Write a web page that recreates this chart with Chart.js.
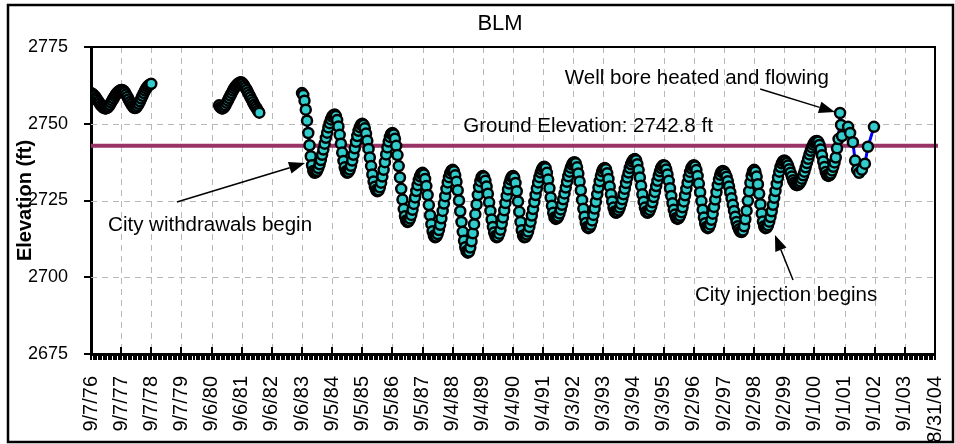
<!DOCTYPE html>
<html lang="en">
<head>
    <meta charset="UTF-8">
    <title>BLM</title>
    <script src="https://cdn.jsdelivr.net/npm/chart.js"></script>
    <style>
        * {
            margin: 0;
            padding: 0;
            box-sizing: border-box;
        }

        body {
            background: #fff;
        }

        .chart-box {
            position: relative;
            width: 955px;
            height: 444px;
        }
    </style>
</head>
<body>
    <div class="chart-box">
        <canvas id="blmChart"></canvas>
    </div>

    <script>
        // x axis: one tick per year, values are years after 9/7/76
        const tickLabels = [
            '9/7/76', '9/7/77', '9/7/78', '9/7/79', '9/6/80', '9/6/81', '9/6/82', '9/6/83',
            '9/5/84', '9/5/85', '9/5/86', '9/5/87', '9/4/88', '9/4/89', '9/4/90', '9/4/91',
            '9/3/92', '9/3/93', '9/3/94', '9/3/95', '9/2/96', '9/2/97', '9/2/98', '9/2/99',
            '9/1/00', '9/1/01', '9/1/02', '9/1/03', '8/31/04'
        ];
        const yTicks = [2675, 2700, 2725, 2750, 2775];
        const groundElevation = 2742.8;
        const groundSpan = [0, 28.1];

        // first reading of each record, in months after 9/7/76; readings every half month
        const segmentStart = [0, 51, 84];

        const levels1976 = [
            2760, 2759.8, 2759.4, 2759, 2758.4, 2757.8, 2757.2, 2756.6, 2756, 2755.6, 2755.2, 2755,
            2755, 2755.2, 2755.6, 2756.2, 2756.9, 2757.6, 2758.3, 2759, 2759.6, 2760.1, 2760.5, 2760.8,
            2761, 2761, 2760.7, 2760.2, 2759.5, 2758.7, 2757.9, 2757.1, 2756.4, 2755.8, 2755.3, 2755.1,
            2755.3, 2755.8, 2756.5, 2757.3, 2758.2, 2759.1, 2760, 2760.8, 2761.5, 2762.1, 2762.5, 2762.8,
            2763
        ];
        const levels1980 = [
            2756, 2755.4, 2755, 2755, 2755.4, 2756, 2756.8, 2757.6, 2758.4, 2759.2, 2760, 2760.8,
            2761.5, 2762.1, 2762.6, 2763, 2763.3, 2763.5, 2763.4, 2763, 2762.4, 2761.7, 2761, 2760.2,
            2759.4, 2758.6, 2757.8, 2757, 2756.2, 2755.5, 2754.9, 2754.2, 2753.6
        ];
        const levels1983 = [
            2760, 2759.4, 2757.5, 2754.6, 2751, 2747, 2743, 2739.4, 2736.5, 2734.6, 2734,
            2734.2, 2734.7, 2735.6, 2736.8, 2738.2, 2739.9, 2741.6, 2743.5, 2745.4, 2747.1, 2748.8, 2750.2, 2751.4, 2752.3, 2752.8, 2753,
            2752.5, 2751.2, 2749.1, 2746.4, 2743.5, 2740.6, 2737.9, 2735.8, 2734.5, 2734,
            2734.3, 2735.1, 2736.3, 2738, 2739.9, 2742, 2744.1, 2746, 2747.7, 2748.9, 2749.7, 2750,
            2749.6, 2748.5, 2746.8, 2744.5, 2741.8, 2739, 2736.2, 2733.5, 2731.2, 2729.5, 2728.4, 2728,
            2728.3, 2729.3, 2730.8, 2732.8, 2735, 2737.5, 2740, 2742.3, 2744.2, 2745.7, 2746.7, 2747,
            2746.5, 2745.1, 2742.8, 2739.8, 2736.2, 2732.5, 2728.8, 2725.3, 2722.2, 2719.9, 2718.5, 2718,
            2718.3, 2719.1, 2720.3, 2722, 2723.9, 2726, 2728.1, 2730, 2731.7, 2732.9, 2733.7, 2734,
            2733.5, 2732, 2729.7, 2726.8, 2723.5, 2720.2, 2717.3, 2715, 2713.5, 2713,
            2713.3, 2714.1, 2715.4, 2717.1, 2719.2, 2721.6, 2724, 2726.4, 2728.8, 2730.9, 2732.6, 2733.9, 2734.7, 2735,
            2734.5, 2733.2, 2731.1, 2728.3, 2725, 2721.5, 2718, 2714.8, 2711.9, 2709.8, 2708.5, 2708,
            2708.4, 2709.7, 2711.7, 2714.3, 2717.3, 2720.5, 2723.7, 2726.8, 2729.4, 2731.3, 2732.6, 2733,
            2732.6, 2731.4, 2729.6, 2727.2, 2724.4, 2721.6, 2718.8, 2716.4, 2714.6, 2713.4, 2713,
            2713.3, 2714.2, 2715.5, 2717.4, 2719.5, 2721.8, 2724.2, 2726.5, 2728.6, 2730.5, 2731.8, 2732.7, 2733,
            2732.4, 2730.7, 2728, 2724.7, 2721.3, 2718, 2715.3, 2713.6, 2713,
            2713.2, 2713.9, 2714.9, 2716.4, 2718.1, 2720.1, 2722.2, 2724.5, 2726.8, 2728.9, 2730.9, 2732.6, 2734.1, 2735.1, 2735.8, 2736,
            2735.5, 2734, 2731.8, 2729, 2726, 2723.3, 2721, 2719.5, 2719,
            2719.2, 2719.8, 2720.8, 2722.1, 2723.6, 2725.4, 2727.3, 2729.2, 2731.1, 2732.9, 2734.4, 2735.7, 2736.7, 2737.3, 2737.5,
            2737.1, 2735.8, 2733.8, 2731.2, 2728.3, 2725.2, 2722.3, 2719.7, 2717.7, 2716.4, 2716,
            2716.3, 2717.1, 2718.5, 2720.3, 2722.4, 2724.6, 2727, 2729.2, 2731.3, 2733.1, 2734.5, 2735.3, 2735.6,
            2735.2, 2733.9, 2732, 2729.6, 2727, 2724.7, 2722.7, 2721.4, 2721,
            2721.2, 2721.8, 2722.7, 2723.9, 2725.4, 2727, 2728.8, 2730.7, 2732.5, 2734.1, 2735.6, 2736.8, 2737.7, 2738.3, 2738.5,
            2738.1, 2736.8, 2734.9, 2732.5, 2729.8, 2727, 2724.6, 2722.7, 2721.4, 2721,
            2721.2, 2721.9, 2723, 2724.4, 2726.1, 2727.8, 2729.7, 2731.4, 2733.1, 2734.5, 2735.6, 2736.3, 2736.5,
            2736.2, 2735.1, 2733.5, 2731.4, 2729, 2726.5, 2724.1, 2722, 2720.4, 2719.3, 2719,
            2719.3, 2720, 2721.2, 2722.8, 2724.7, 2726.7, 2728.8, 2730.8, 2732.7, 2734.3, 2735.5, 2736.2, 2736.5,
            2736.1, 2734.9, 2733, 2730.5, 2727.7, 2724.8, 2722, 2719.5, 2717.6, 2716.4, 2716,
            2716.3, 2717.2, 2718.7, 2720.7, 2722.9, 2725.3, 2727.7, 2730, 2731.9, 2733.4, 2734.3, 2734.6,
            2734.4, 2733.7, 2732.7, 2731.3, 2729.6, 2727.7, 2725.7, 2723.6, 2721.6, 2719.7, 2718, 2716.6, 2715.6, 2714.9, 2714.7,
            2715.2, 2716.6, 2718.9, 2721.7, 2724.9, 2728, 2730.8, 2733.1, 2734.5, 2735,
            2734.4, 2732.8, 2730.3, 2727.2, 2723.8, 2720.8, 2718.2, 2716.6, 2716,
            2716.2, 2716.9, 2718.1, 2719.6, 2721.5, 2723.6, 2725.9, 2728.1, 2730.4, 2732.5, 2734.4, 2735.9, 2737.1, 2737.8, 2738,
            2737.8, 2737.2, 2736.4, 2735.2, 2734, 2732.8, 2731.6, 2730.8, 2730.2, 2730,
            2730.1, 2730.5, 2731.2, 2732.1, 2733.2, 2734.4, 2735.8, 2737.2, 2738.6, 2740, 2741.2, 2742.3, 2743.2, 2743.9, 2744.3, 2744.4,
            2744.1, 2743.1, 2741.6, 2739.7, 2737.7, 2735.9, 2734.3, 2733.3, 2733,
            2733.2, 2733.8, 2734.8, 2736, 2737.4, 2739
        ];

        // sparse readings at the end of the record (months after 9/7/76)
        const lateMonths = [297, 297.6, 298.2, 298.6, 299, 301.4, 302.2, 303.3, 304.2, 305, 305.8, 306.9, 308.1, 309.3, 311.7];
        const lateLevels = [2742, 2745, 2753.5, 2749.6, 2746, 2749, 2747, 2744, 2738, 2735, 2734, 2735, 2737, 2742.5, 2749];

        const FONT = 'Arial, "Liberation Sans", sans-serif';

        function toPoints(start, values) {
            return values.map((v, i) => ({ x: (start + i * 0.5) / 12, y: v }));
        }

        const wellStyle = {
            borderColor: '#0000ff',
            borderWidth: 3,
            pointRadius: 5,
            pointBorderWidth: 2.5,
            pointBackgroundColor: '#33cccc',
            pointBorderColor: '#000000',
            tension: 0,
            order: 0
        };

        // annotation texts and arrows, in data units
        const notes = [
            { text: 'Ground Elevation: 2742.8 ft', x: 16.49, y: 2749.3 },
            { text: 'Well bore heated and flowing', x: 20.1, y: 2764.9, from: [22.2, 2761.3], to: [24.68, 2753.8] },
            { text: 'City withdrawals begin', x: 3.95, y: 2717, from: [2.85, 2724.5], to: [7.1, 2737.2] },
            { text: 'City injection begins', x: 23.06, y: 2694.2, from: [23.29, 2699.1], to: [22.69, 2713.8] }
        ];

        // dashed grid under the data
        const gridLines = {
            id: 'gridLines',
            beforeDatasetsDraw(chart) {
                const { ctx, chartArea: a, scales: { x, y } } = chart;
                ctx.save();
                ctx.strokeStyle = '#b8b8b8';
                ctx.lineWidth = 1;
                ctx.setLineDash([6, 5]);
                for (let i = 1; i < tickLabels.length - 1; i++) {
                    const px = Math.round(x.getPixelForValue(i)) + 0.5;
                    ctx.beginPath();
                    ctx.moveTo(px, a.top);
                    ctx.lineTo(px, a.bottom);
                    ctx.stroke();
                }
                yTicks.slice(1, -1).forEach(v => {
                    const py = Math.round(y.getPixelForValue(v)) + 0.5;
                    ctx.beginPath();
                    ctx.moveTo(a.left, py);
                    ctx.lineTo(a.right, py);
                    ctx.stroke();
                });
                ctx.restore();
            }
        };

        const decor = {
            id: 'decor',
            afterDraw(chart) {
                const { ctx, chartArea: a, scales: { x, y } } = chart;
                ctx.save();
                ctx.strokeStyle = '#000';
                ctx.fillStyle = '#000';

                // top and right frame of the plot
                ctx.lineWidth = 2;
                ctx.beginPath();
                ctx.moveTo(a.left, a.top);
                ctx.lineTo(a.right, a.top);
                ctx.lineTo(a.right, a.bottom);
                ctx.stroke();

                // y tick marks
                yTicks.forEach(v => {
                    const py = Math.round(y.getPixelForValue(v));
                    ctx.beginPath();
                    ctx.moveTo(a.left - 7, py);
                    ctx.lineTo(a.left, py);
                    ctx.stroke();
                });

                // major and monthly tick marks on the date axis
                for (let m = 0; m <= 28 * 12; m++) {
                    const px = Math.round(x.getPixelForValue(m / 12));
                    ctx.beginPath();
                    if (m % 12 === 0) {
                        ctx.moveTo(px, a.bottom - 7);
                        ctx.lineTo(px, a.bottom + 6);
                    } else {
                        ctx.moveTo(px, a.bottom);
                        ctx.lineTo(px, a.bottom + 6);
                    }
                    ctx.stroke();
                }

                // outer chart border
                ctx.lineWidth = 2.5;
                ctx.strokeRect(8, 5, 945, 437);

                // title
                ctx.font = '22px ' + FONT;
                ctx.textAlign = 'center';
                ctx.textBaseline = 'middle';
                ctx.fillText('BLM', 500, 24);

                // annotations
                ctx.font = '20.5px ' + FONT;
                notes.forEach(n => {
                    ctx.fillText(n.text, x.getPixelForValue(n.x), y.getPixelForValue(n.y));
                    if (!n.from) return;
                    const x1 = x.getPixelForValue(n.from[0]), y1 = y.getPixelForValue(n.from[1]);
                    const x2 = x.getPixelForValue(n.to[0]), y2 = y.getPixelForValue(n.to[1]);
                    const ang = Math.atan2(y2 - y1, x2 - x1);
                    const len = 16, half = 6;
                    const bx = x2 - len * Math.cos(ang), by = y2 - len * Math.sin(ang);
                    ctx.lineWidth = 1.5;
                    ctx.beginPath();
                    ctx.moveTo(x1, y1);
                    ctx.lineTo(bx, by);
                    ctx.stroke();
                    ctx.beginPath();
                    ctx.moveTo(x2, y2);
                    ctx.lineTo(bx + half * Math.sin(ang), by - half * Math.cos(ang));
                    ctx.lineTo(bx - half * Math.sin(ang), by + half * Math.cos(ang));
                    ctx.closePath();
                    ctx.fill();
                });
                ctx.restore();
            }
        };

        const latePoints = lateMonths.map((m, i) => ({ x: m / 12, y: lateLevels[i] }));

        new Chart(document.getElementById('blmChart'), {
            type: 'line',
            data: {
                datasets: [
                    { ...wellStyle, label: 'BLM 1976', data: toPoints(segmentStart[0], levels1976) },
                    { ...wellStyle, label: 'BLM 1980', data: toPoints(segmentStart[1], levels1980) },
                    { ...wellStyle, label: 'BLM 1983', data: toPoints(segmentStart[2], levels1983).concat(latePoints) },
                    {
                        label: 'Ground Elevation',
                        data: groundSpan.map(v => ({ x: v, y: groundElevation })),
                        borderColor: '#993366',
                        borderWidth: 4,
                        pointRadius: 0,
                        clip: 4,
                        order: 1
                    }
                ]
            },
            options: {
                responsive: true,
                maintainAspectRatio: false,
                animation: false,
                layout: {
                    padding: { left: 0, top: 47, right: 20, bottom: 0 }
                },
                plugins: {
                    legend: { display: false },
                    tooltip: { enabled: false },
                    title: { display: false }
                },
                scales: {
                    x: {
                        type: 'linear',
                        min: 0,
                        max: 28,
                        afterFit: s => {
                            s.height = 90;
                            s.paddingLeft = 0;
                            s.paddingRight = 0;
                        },
                        ticks: {
                            stepSize: 1,
                            autoSkip: false,
                            maxRotation: 90,
                            minRotation: 90,
                            padding: 14,
                            color: '#000',
                            font: { family: FONT, size: 20 },
                            callback: v => tickLabels[Math.round(v)] ?? ''
                        },
                        grid: { display: false },
                        border: { color: '#000', width: 3 }
                    },
                    y: {
                        min: 2675,
                        max: 2775,
                        afterFit: s => { s.width = 91; },
                        afterBuildTicks: s => { s.ticks = yTicks.map(v => ({ value: v })); },
                        ticks: {
                            padding: 15,
                            color: '#000',
                            font: { family: FONT, size: 18 },
                            callback: v => String(v)
                        },
                        grid: { display: false },
                        border: { color: '#000', width: 3 },
                        title: {
                            display: true,
                            text: 'Elevation (ft)',
                            color: '#000',
                            padding: { top: 13, bottom: 0 },
                            font: { family: FONT, size: 20, weight: 'bold' }
                        }
                    }
                }
            },
            plugins: [gridLines, decor]
        });
    </script>
</body>
</html>
